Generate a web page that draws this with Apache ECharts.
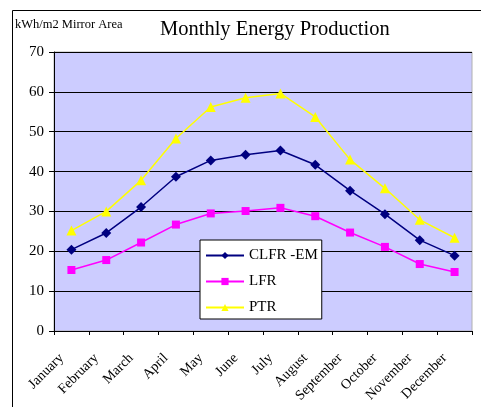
<!DOCTYPE html>
<html>
<head>
<meta charset="utf-8">
<script src="https://cdn.jsdelivr.net/npm/echarts@6/dist/echarts.min.js"></script>
<style>
  html, body { margin: 0; padding: 0; background: #fff; }
  #chart { width: 481px; height: 407px; }
</style>
</head>
<body>
<div id="chart"></div>
<script>
// Monthly energy yield per square metre of mirror, by collector type
const months = ['January', 'February', 'March', 'April', 'May', 'June',
                'July', 'August', 'September', 'October', 'November', 'December'];
const clfrEm = [20.4, 24.6, 31.1, 38.7, 42.8, 44.2, 45.3, 41.7, 35.2, 29.3, 22.8, 18.9];
const lfr    = [15.3, 17.8, 22.2, 26.7, 29.5, 30.1, 30.9, 28.8, 24.7, 21.1, 16.8, 14.8];
const ptr    = [25.2, 30.0, 37.8, 48.3, 56.2, 58.5, 59.6, 53.7, 43.0, 35.8, 27.9, 23.4];
const yTicks = [0, 10, 20, 30, 40, 50, 60, 70];

const serif = "'Liberation Serif', 'Times New Roman', 'DejaVu Serif', serif";

const chart = echarts.init(document.getElementById('chart'), null, { renderer: 'canvas' });

function lineSeries(name, data, color, symbol, size) {
  return {
    name: name,
    type: 'line',
    data: data,
    symbol: symbol,
    symbolSize: size,
    lineStyle: { color: color, width: 1.5 },
    itemStyle: { color: color },
    emphasis: { disabled: true },
    animation: false
  };
}

chart.setOption({
  animation: false,
  backgroundColor: '#ffffff',
  title: [
    {
      text: 'Monthly Energy Production',
      left: 155, top: 14,
      textStyle: { fontFamily: serif, fontSize: 20.5, fontWeight: 'normal', color: '#000' }
    },
    {
      text: 'kWh/m2 Mirror Area',
      left: 10, top: 13,
      textStyle: { fontFamily: serif, fontSize: 12.5, fontWeight: 'normal', color: '#000' }
    }
  ],
  graphic: [
    {
      type: 'rect',
      shape: { x: 12.5, y: 10.5, width: 472, height: 420 },
      style: { fill: 'none', stroke: '#000', lineWidth: 1 },
      silent: true
    }
  ],
  legend: {
    orient: 'vertical',
    left: 200, top: 240,
    backgroundColor: '#ffffff',
    borderColor: '#000',
    borderWidth: 1,
    padding: [8, 4, 4, 5],
    itemWidth: 38, itemHeight: 9,
    itemGap: 11,
    textStyle: { fontFamily: serif, fontSize: 15, color: '#000' },
    data: ['CLFR -EM', 'LFR', 'PTR']
  },
  grid: { left: 54, right: 9, top: 52, bottom: 76, show: true,
          backgroundColor: '#ccccff', borderColor: '#b0b0b0', borderWidth: 1 },
  xAxis: {
    type: 'category',
    data: months,
    boundaryGap: true,
    axisLine: { lineStyle: { color: '#000', width: 1 } },
    axisTick: { show: true, length: 4, lineStyle: { color: '#000' } },
    axisLabel: { rotate: 45, margin: 15, padding: [0, 14, 0, 0],
                 fontFamily: serif, fontSize: 14, color: '#000', interval: 0 },
    splitLine: { show: false }
  },
  yAxis: {
    type: 'value',
    min: yTicks[0], max: yTicks[yTicks.length - 1], interval: 10,
    axisLine: { show: true, lineStyle: { color: '#000', width: 1 } },
    axisTick: { show: true, length: 5, lineStyle: { color: '#000' } },
    axisLabel: { margin: 10, fontFamily: serif, fontSize: 15, color: '#000' },
    splitLine: { show: true, lineStyle: { color: '#000', width: 1 } }
  },
  series: [
    lineSeries('CLFR -EM', clfrEm, '#000080', 'diamond', 10),
    lineSeries('LFR', lfr, '#ff00ff', 'rect', 8),
    lineSeries('PTR', ptr, '#ffff00', 'triangle', 10)
  ]
});
</script>
</body>
</html>
